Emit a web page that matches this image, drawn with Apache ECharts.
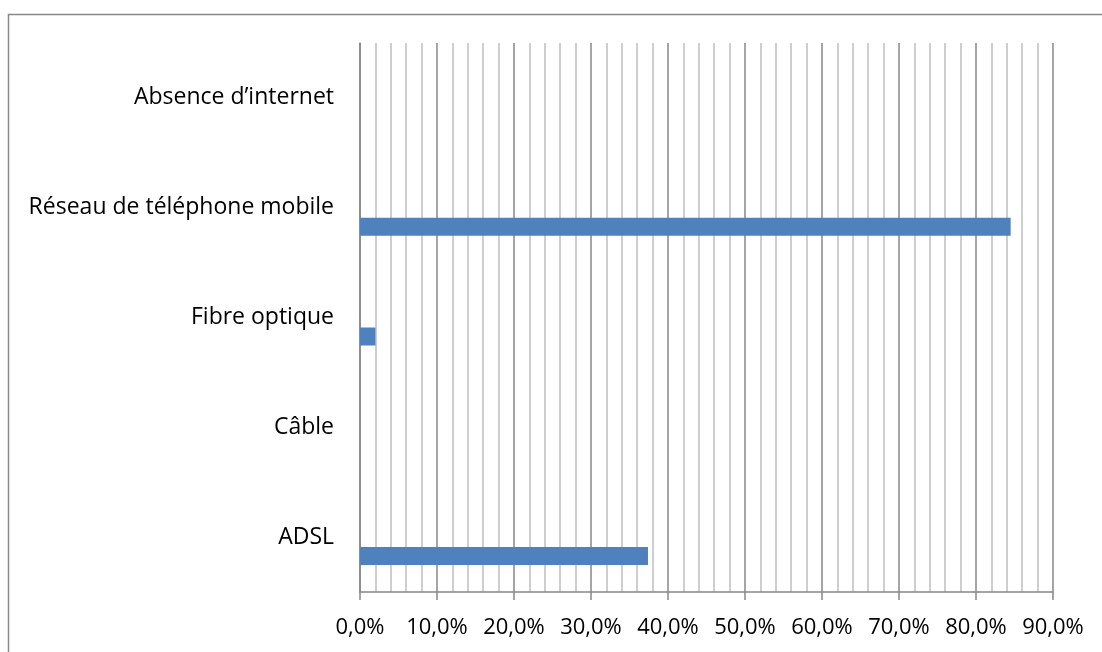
<!DOCTYPE html>
<html>
<head>
<meta charset="utf-8">
<script src="https://cdn.jsdelivr.net/npm/echarts@6/dist/echarts.min.js"></script>
<style>html,body{margin:0;padding:0;background:#fff;}#c{width:1102px;height:652px;}</style>
</head>
<body>
<div id="c"></div>
<script>
const categories = ['ADSL', 'Câble', 'Fibre optique', 'Réseau de téléphone mobile', 'Absence d\u2019internet'];
const values = [37.4, 0, 2.0, 84.5, 0];
const xTicks = [0, 10, 20, 30, 40, 50, 60, 70, 80, 90];

const FONT = 'Open Sans';
const chart = echarts.init(document.getElementById('c'), null, {renderer: 'canvas'});
chart.setOption({
  animation: false,
  backgroundColor: '#ffffff',
  graphic: [{
    type: 'rect', silent: true,
    shape: {x: 8.5, y: 14.5, width: 1200, height: 800},
    style: {fill: 'none', stroke: '#898989', lineWidth: 1.5}
  }],
  grid: {left: 360, right: 49, top: 43, bottom: 60, containLabel: false},
  xAxis: {
    type: 'value', min: xTicks[0], max: xTicks[xTicks.length - 1], interval: 10,
    axisLine: {show: true, lineStyle: {color: '#878787', width: 1.5}},
    axisTick: {show: true, length: 8, lineStyle: {color: '#878787', width: 1.5}},
    axisLabel: {
      color: '#000', fontFamily: FONT, fontSize: 22, margin: 25,
      formatter: v => v.toFixed(1).replace('.', ',') + '%'
    },
    splitLine: {show: true, lineStyle: {color: '#878787', width: 1.5}},
    minorTick: {show: false, splitNumber: 5},
    minorSplitLine: {show: true, lineStyle: {color: '#bebebe', width: 1.5}}
  },
  yAxis: {
    type: 'category', data: categories,
    axisLine: {show: true, lineStyle: {color: '#878787', width: 1.5}},
    axisTick: {show: false},
    axisLabel: {color: '#000', fontFamily: FONT, fontSize: 23, margin: 26, padding: [5, 0, 0, 0]},
    splitLine: {show: false}
  },
  series: [
    {type: 'bar', name: 'pad', data: [], barWidth: 18, barGap: '111%'},
    {type: 'bar', name: 'val', data: values, barWidth: 18, barGap: '111%',
     itemStyle: {color: '#4f81bd'}}
  ]
});
</script>
</body>
</html>
